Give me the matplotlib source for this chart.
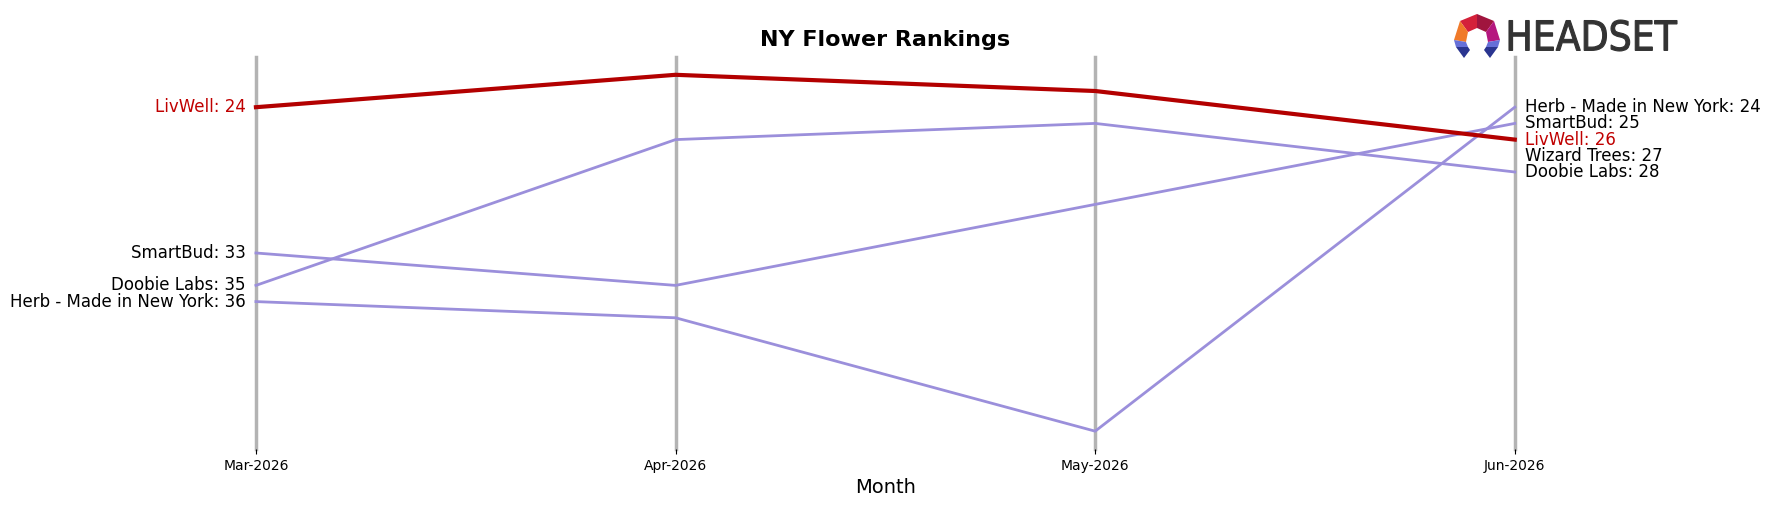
import numpy as np
import matplotlib.pyplot as plt
from matplotlib.textpath import TextPath
from matplotlib.patches import PathPatch, Polygon
from matplotlib.font_manager import FontProperties
import matplotlib.transforms as mtransforms

months = ["Mar-2026", "Apr-2026", "May-2026", "Jun-2026"]

brands = ["LivWell", "SmartBud", "Doobie Labs", "Herb - Made in New York", "Wizard Trees"]
ranks = {
    "LivWell": [24, 22, 23, 26],
    "SmartBud": [33, 35, 30, 25],
    "Doobie Labs": [35, 26, 25, 28],
    "Herb - Made in New York": [36, 37, 44, 24],
    "Wizard Trees": [None, None, None, 27],
}
highlight = "LivWell"

red = "#b30000"
purple = "#9b8fdb"

fig = plt.figure(figsize=(17.7, 5.07), dpi=100)
ax = fig.add_axes([0.1446, 0.1144, 0.7112, 0.7732])

x = np.arange(len(months))
for i in x:
    ax.axvline(i, color="#b3b3b3", lw=2.5, zorder=0, clip_on=False)

for b in brands:
    r = np.array([np.nan if v is None else v for v in ranks[b]], dtype=float)
    if b == highlight:
        ax.plot(x, r, color=red, lw=3, zorder=3, clip_on=False)
    else:
        ax.plot(x, r, color=purple, lw=2, zorder=2, clip_on=False)
    col = "#c00000" if b == highlight else "black"
    if not np.isnan(r[0]):
        ax.text(-0.025, r[0], f"{b}: {int(r[0])}", ha="right", va="center",
                fontsize=12, color=col)
    if not np.isnan(r[-1]):
        ax.text(len(months) - 1 + 0.025, r[-1], f"{b}: {int(r[-1])}", ha="left",
                va="center", fontsize=12, color=col)

ax.set_xlim(0, len(months) - 1)
ax.set_ylim(45.1, 20.9)
ax.set_xticks(x)
ax.set_xticklabels(months, fontsize=10)
ax.set_yticks([])
for s in ax.spines.values():
    s.set_visible(False)
ax.set_xlabel("Month", fontsize=14)
ax.set_title("NY Flower Rankings", fontsize=16, fontweight="bold", pad=8)

# logo: icon + condensed wordmark
def fig_px(px, py):
    return px / 1770, 1 - py / 507

cx = 1477
right_half = [
    ([(1477, 14), (1494, 21), (1486, 32), (1477, 28)], "#a0153e"),
    ([(1494, 21), (1500, 40), (1488, 42), (1486, 32)], "#b5177f"),
    ([(1500, 40), (1488, 42), (1486, 47), (1498, 47)], "#6670d8"),
    ([(1498, 47), (1486, 47), (1484, 50), (1490, 58)], "#2a3590"),
]
left_colors = ["#d4213a", "#f07a2a", "#6670d8", "#2a3590"]
icon = []
for (pts, c), lc in zip(right_half, left_colors):
    icon.append((pts, c))
    icon.append(([(2 * cx - px, py) for px, py in pts], lc))
for pts, c in icon:
    fig.patches.append(Polygon([fig_px(*p) for p in pts], closed=True,
                               transform=fig.transFigure, color=c, lw=0))

tp = TextPath((0, 0), "HEADSET", prop=FontProperties(family="DejaVu Sans"))
bb = tp.get_extents()
x0, x1, ytop, ybot = 1509, 1677, 20, 51
sx = (x1 - x0) / bb.width
sy = (ybot - ytop) / bb.height
tr = (mtransforms.Affine2D().translate(-bb.x0, -bb.y0).scale(sx, sy)
      .translate(x0, 507 - ybot))
fig.patches.append(PathPatch(tr.transform_path(tp), facecolor="#333333",
                             edgecolor="#333333", lw=0.8,
                             transform=mtransforms.IdentityTransform()))

fig.savefig("out.png", dpi=100)
